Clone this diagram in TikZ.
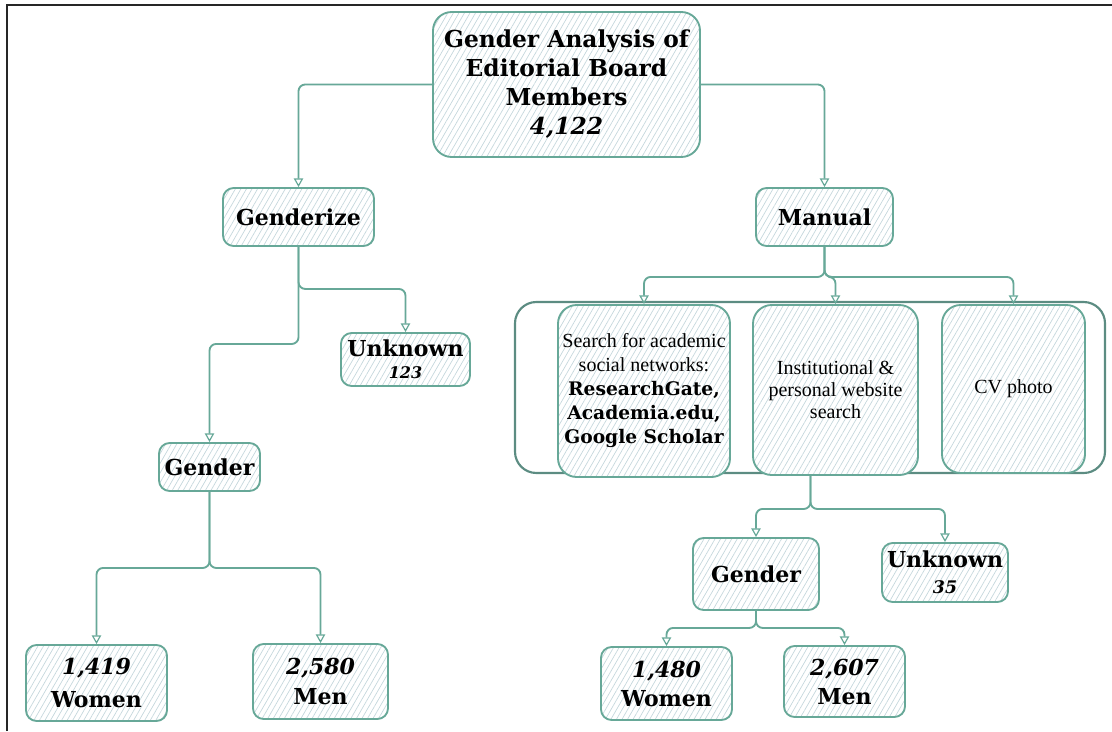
\documentclass[tikz,border=0pt]{standalone}
\usepackage{fontspec}
\setmainfont{DejaVu Serif}
\newfontfamily\tms{Liberation Serif}
\usetikzlibrary{arrows.meta,patterns.meta,calc}
\definecolor{teal1}{HTML}{67A898}
\definecolor{hatch}{HTML}{C4D7DC}
\definecolor{cont}{HTML}{5C8C82}
\newcommand\bsm{\rmfamily\bfseries\fontsize{14}{18}\selectfont}
\begin{document}
\begin{tikzpicture}[x=0.75pt,y=-0.75pt,
  box/.style={draw=teal1, line width=1.4pt, rounded corners=8pt,
    preaction={fill=white},
    pattern={Lines[angle=60,distance=3.6pt,line width=0.5pt]}, pattern color=hatch,
    align=center, inner sep=0pt},
  sz/.style 2 args={minimum width=#1*0.75pt, minimum height=#2*0.75pt},
  big/.style={font=\bfseries\fontsize{16.5}{21.75}\selectfont},
  title/.style={font=\bfseries\fontsize{17.5}{21.75}\selectfont},
  small/.style={font=\tms\fontsize{15}{16.5}\selectfont},
  conn/.style={draw=teal1, line width=1.4pt, rounded corners=5pt,
    -{Triangle[open,length=6.5pt,width=7pt,line width=0.9pt]}},
]
\useasboundingbox (0,0) rectangle (1112,731);
\draw[line width=1.5pt, black!85] (7,731) -- (7,5) -- (1112,5);

% container
\node[draw=cont, line width=1.6pt, rounded corners=16pt, fill=white, sz={590}{171}] (cont) at (810,387.5) {};

% nodes
\node[box, sz={267}{145}, rounded corners=14pt, title] (top) at (566.5,84.5)
  {Gender Analysis of\\Editorial Board\\Members\\\itshape 4,122};
\node[box, sz={151}{58}, big] (gz) at (298.5,217) {Genderize};
\node[box, sz={137}{58}, big] (man) at (824.5,217) {Manual};
\node[box, sz={129}{53}, big] (unk1) at (405.5,359.5)
  {Unknown\\[-5pt]\fontsize{12}{16.5}\selectfont\itshape 123};
\node[box, sz={101}{48}, big] (gl) at (209.5,467) {Gender};
\node[box, sz={141}{76}, big] (wl) at (96.5,683) {\itshape 1,419\\[3pt]Women};
\node[box, sz={135}{75}, big] (ml) at (320.5,681.5) {\itshape 2,580\\[1pt]Men};

\node[box, sz={172}{172}, rounded corners=14pt, font=\tms\fontsize{15}{18}\selectfont] (b1) at (644,391)
  {Search for academic\\social networks:\\
   \bsm ResearchGate,\\\bsm Academia.edu,\\\bsm Google Scholar};
\node[box, sz={165}{170}, rounded corners=14pt, small] (b2) at (835.5,390)
  {Institutional \&\\personal website\\search};
\node[box, sz={143}{168}, rounded corners=14pt, small] (b3) at (1013.5,389) {CV photo};

\node[box, sz={126}{72}, big] (gr) at (756,574) {Gender};
\node[box, sz={126}{59}, big] (unk2) at (945,572.5)
  {Unknown\\[-2pt]\fontsize{13}{19}\selectfont\itshape 35};
\node[box, sz={131}{73}, big] (wr) at (666.5,683.5) {\itshape 1,480\\Women};
\node[box, sz={121}{71}, big] (mr) at (844.5,681.5) {\itshape 2,607\\Men};

% connectors
\draw[conn] (top.west) -| (gz.north);
\draw[conn] (top.east) -| (man.north);
\draw[conn] (gz.south) -- ++(0,42) -| (unk1.north);
\draw[conn] (gz.south) -- ++(0,97) -| (gl.north);
\draw[conn] (gl.south) -- ++(0,76) -| (wl.north);
\draw[conn] (gl.south) -- ++(0,76) -| (ml.north);
\draw[conn] (man.south) -- ++(0,30) -| (b1.north);
\draw[conn] (man.south) -- ++(0,30) -| (b2.north);
\draw[conn] (man.south) -- ++(0,30) -| (b3.north);
\draw[conn] ($(b2.south)+(-25,0)$) -- ++(0,33) -| (gr.north);
\draw[conn] ($(b2.south)+(-25,0)$) -- ++(0,33) -| (unk2.north);
\draw[conn] (gr.south) -- ++(0,17) -| (wr.north);
\draw[conn] (gr.south) -- ++(0,17) -| (mr.north);
\end{tikzpicture}
\end{document}
